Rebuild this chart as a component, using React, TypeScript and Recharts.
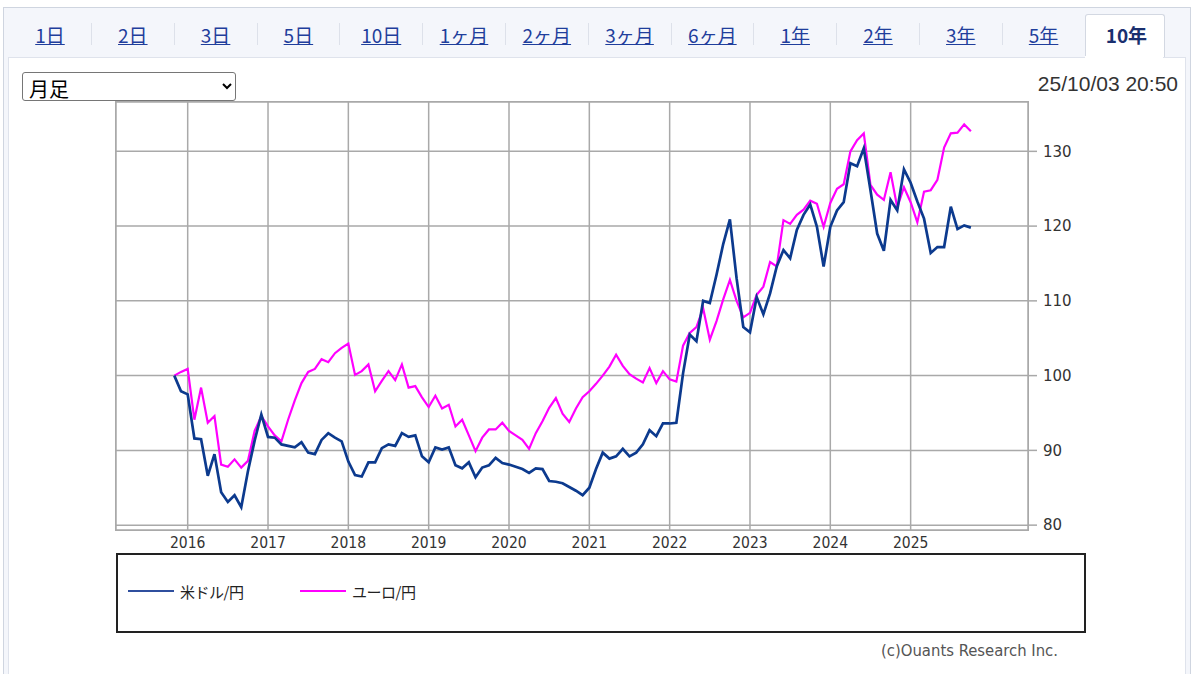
import React from 'react';
import { LineChart, Line, XAxis, YAxis, CartesianGrid } from 'recharts';

const tabLabels = ['1日', '2日', '3日', '5日', '10日', '1ヶ月', '2ヶ月', '3ヶ月', '6ヶ月', '1年', '2年', '3年', '5年', '10年'];
const activeTab = '10年';

const yearTicks = [2016, 2017, 2018, 2019, 2020, 2021, 2022, 2023, 2024, 2025];
const valueTicks = [80, 90, 100, 110, 120, 130];

// monthly, Nov 2015 .. Oct 2025 (index 100 at start)
const usdJpy = [
  100.0, 97.9,
  97.5, 91.6, 91.5, 86.6, 89.5, 84.4, 83.1, 84.0, 82.4, 87.2, 91.3, 94.8,
  91.8, 91.7, 90.8, 90.6, 90.4, 91.1, 89.7, 89.5, 91.4, 92.3, 91.7, 91.2,
  88.5, 86.7, 86.5, 88.4, 88.4, 90.3, 90.8, 90.6, 92.3, 91.8, 92.0, 89.2,
  88.4, 90.4, 90.1, 90.4, 88.0, 87.6, 88.4, 86.4, 87.7, 88.0, 89.0, 88.3,
  88.1, 87.8, 87.5, 87.0, 87.6, 87.5, 85.9, 85.8, 85.6, 85.1, 84.6, 84.0,
  85.0, 87.5, 89.7, 88.9, 89.2, 90.2, 89.2, 89.7, 90.8, 92.7, 91.9, 93.6,
  93.6, 93.7, 100.3, 105.5, 104.6, 110.0, 109.7, 113.5, 117.6, 120.9, 113.0, 106.5,
  105.8, 110.5, 108.2, 111.0, 114.6, 116.8, 115.7, 119.5, 121.5, 122.9, 119.9, 114.6,
  119.9, 122.1, 123.2, 128.4, 128.0, 130.4, 124.8, 119.0, 116.7, 123.5, 122.1, 127.6,
  125.8, 123.3, 121.0, 116.4, 117.2, 117.2, 122.6, 119.6, 120.1, 119.8,
];

const eurJpy = [
  100.0, 100.5,
  100.9, 94.1, 98.4, 93.7, 94.6, 88.1, 87.8, 88.8, 87.7, 88.6, 92.6, 94.6,
  93.2, 92.0, 91.2, 94.1, 96.7, 99.0, 100.5, 100.9, 102.2, 101.8, 103.0, 103.7,
  104.3, 100.1, 100.6, 101.5, 97.9, 99.3, 100.6, 99.4, 101.5, 98.4, 98.6, 97.1,
  95.8, 97.3, 95.6, 96.1, 93.2, 94.1, 92.0, 89.9, 91.7, 92.8, 92.8, 93.7,
  92.6, 92.0, 91.4, 90.2, 92.3, 93.9, 95.7, 97.0, 94.9, 93.8, 95.6, 97.1,
  97.9, 98.9, 100.0, 101.2, 102.8, 101.3, 100.2, 99.6, 99.1, 101.0, 99.0, 100.6,
  99.5, 99.2, 104.0, 105.7, 106.5, 109.0, 104.8, 107.3, 110.2, 112.8, 110.0, 107.8,
  108.4, 110.8, 111.9, 115.2, 114.6, 120.8, 120.3, 121.5, 122.2, 123.4, 123.0, 119.9,
  123.1, 125.0, 125.6, 130.0, 131.5, 132.4, 125.5, 124.2, 123.5, 127.2, 122.5, 125.2,
  123.2, 120.5, 124.6, 124.8, 126.2, 130.5, 132.4, 132.5, 133.6, 132.7,
];

const seriesNames = ['米ドル/円', 'ユーロ/円'];
const seriesColors = ['#0c3a8e', '#ff00ff'];

const startYear = 2015;
const startMonth = 11;

const data = usdJpy.map((v, i) => ({
  t: startYear + (startMonth - 1 + i) / 12,
  usd: v,
  eur: eurJpy[i],
}));

const PLOT_LEFT = 116;
const PLOT_RIGHT = 1028;
const PLOT_TOP = 102;
const PLOT_BOTTOM = 530;
const gridColor = '#a9a9a9';

const condensed = "'DejaVu Sans Condensed', 'Liberation Sans Narrow', 'DejaVu Sans', sans-serif";
const jp = "'Noto Sans CJK JP', 'Noto Sans', sans-serif";

export default function App() {
  return (
    <div style={{ position: 'absolute', left: 0, top: 0, width: 1200, height: 674, overflow: 'hidden', background: '#fff', fontFamily: jp }}>
      {/* outer panel with tab strip */}
      <div style={{ position: 'absolute', left: 3, top: 7, width: 1188, height: 700, border: '1px solid #cfd5e0', background: '#f4f6fb', boxSizing: 'border-box' }} />
      {tabLabels.map((label, i) => {
        const cx = 50 + i * 82.8;
        const active = label === activeTab;
        return (
          <React.Fragment key={label}>
            {active && (
              <div style={{ position: 'absolute', left: 1085, top: 14, width: 80, height: 46, background: '#fff', border: '1px solid #d3d8e2', borderBottom: 'none', borderRadius: '3px 3px 0 0', boxSizing: 'border-box' }} />
            )}
            <div style={{ position: 'absolute', left: cx - 41, top: 20, width: 82, textAlign: 'center', fontSize: 19, lineHeight: '30px', color: active ? '#1a2f6e' : '#1f3e9c', fontWeight: active ? 700 : 400, textDecoration: active ? 'none' : 'underline' }}>
              {label}
            </div>
            {i < tabLabels.length - 2 && (
              <div style={{ position: 'absolute', left: cx + 41, top: 23, width: 1, height: 22, background: '#dde1ea' }} />
            )}
          </React.Fragment>
        );
      })}
      {/* inner white panel */}
      <div style={{ position: 'absolute', left: 8, top: 57, width: 1178, height: 640, background: '#fff', borderTop: '1px solid #dfe3ec', borderLeft: '1px solid #dfe3ec', borderRight: '1px solid #dfe3ec', boxSizing: 'border-box' }} />
      <div style={{ position: 'absolute', left: 1085, top: 56, width: 78, height: 3, background: '#fff' }} />

      <select defaultValue="月足" style={{ position: 'absolute', left: 22, top: 72, width: 214, height: 29, fontSize: 20, fontFamily: jp, border: '1px solid #767676', borderRadius: 3, background: '#fff', color: '#000', padding: '0 2px' }}>
        <option value="月足">月足</option>
      </select>

      <div style={{ position: 'absolute', right: 22, top: 71, fontSize: 21, lineHeight: '26px', color: '#333', fontFamily: "'Liberation Sans', Arial, sans-serif" }}>
        25/10/03 20:50
      </div>

      <div style={{ position: 'absolute', left: 0, top: 0 }}>
        <LineChart width={1200} height={560} data={data} margin={{ top: PLOT_TOP, right: 1200 - PLOT_RIGHT - 60, bottom: 0, left: PLOT_LEFT }}>
          <CartesianGrid stroke={gridColor} strokeWidth={1.5} />
          <XAxis
            dataKey="t"
            type="number"
            domain={[2015.1075, 2026.461]}
            ticks={yearTicks}
            tickFormatter={(v) => String(Math.round(v))}
            axisLine={false}
            tickLine={false}
            tickSize={0}
            tickMargin={7}
            height={30}
            interval={0}
            tick={{ fill: '#333', fontSize: 15.5, fontFamily: condensed }}
          />
          <YAxis
            orientation="right"
            type="number"
            domain={[79.35, 136.6]}
            allowDataOverflow
            ticks={valueTicks}
            width={60}
            axisLine={false}
            tickSize={9}
            tickMargin={6}
            tickLine={{ stroke: gridColor, strokeWidth: 1.5 }}
            tick={{ fill: '#333', fontSize: 15, fontFamily: "'DejaVu Sans', sans-serif", textAnchor: 'start' }}
          />
          <Line type="linear" dataKey="eur" name={seriesNames[1]} stroke={seriesColors[1]} strokeWidth={2.2} dot={false} isAnimationActive={false} />
          <Line type="linear" dataKey="usd" name={seriesNames[0]} stroke={seriesColors[0]} strokeWidth={2.7} dot={false} isAnimationActive={false} />
        </LineChart>
      </div>

      {/* plot frame */}
      <div style={{ position: 'absolute', left: PLOT_LEFT - 1, top: PLOT_TOP - 1, width: PLOT_RIGHT - PLOT_LEFT + 2, height: PLOT_BOTTOM - PLOT_TOP + 2, border: `1.5px solid ${gridColor}`, boxSizing: 'border-box', pointerEvents: 'none' }} />

      {/* legend */}
      <div style={{ position: 'absolute', left: 116, top: 553, width: 970, height: 80, border: '2px solid #222', boxSizing: 'border-box', background: '#fff' }}>
        {seriesNames.map((name, i) => (
          <div key={name} style={{ position: 'absolute', left: 10 + i * 172, top: 25, display: 'flex', alignItems: 'center', height: 22 }}>
            <div style={{ width: 46, height: 2, background: i === 0 ? '#2f4f9e' : seriesColors[1] }} />
            <span style={{ marginLeft: 6, fontSize: 15, color: '#222', fontFamily: jp, letterSpacing: -0.5 }}>{name}</span>
          </div>
        ))}
      </div>

      <div style={{ position: 'absolute', right: 142, top: 640, fontSize: 16.5, lineHeight: '22px', color: '#555', fontFamily: condensed }}>
        (c)Ouants Research Inc.
      </div>
    </div>
  );
}
